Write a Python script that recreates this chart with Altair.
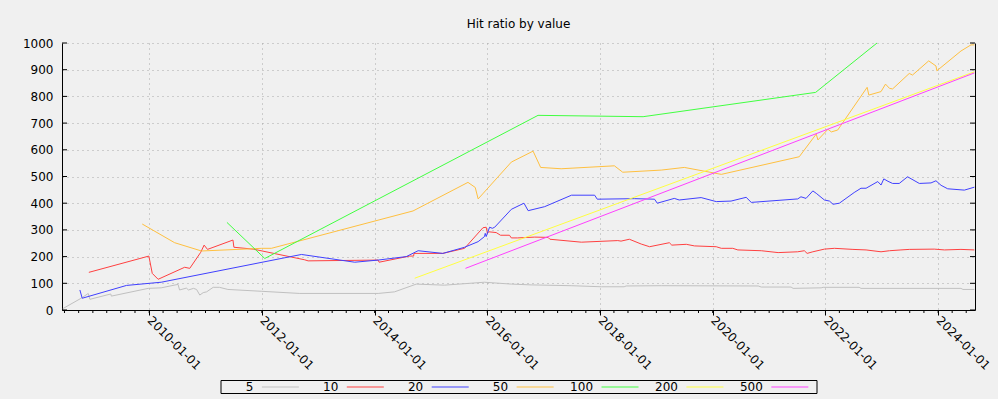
import altair as alt
import pandas as pd

SERIES = ["5", "10", "20", "50", "100", "200", "500"]
COLORS = ["#c0c0c0", "#ff4040", "#4040ff", "#ffc040", "#40ff40", "#ffff40", "#ff40ff"]

dates5 = ["2008-06-20", "2008-10-20", "2008-12-02", "2008-12-13", "2009-04-27", "2009-05-01",
          "2009-12-26", "2010-03-20", "2010-07-07", "2010-07-17", "2010-08-30", "2010-09-13",
          "2010-10-15", "2010-11-04", "2010-11-25", "2010-12-17", "2011-01-08", "2011-02-20",
          "2011-04-01", "2011-05-26", "2012-01-01", "2012-09-03", "2014-01-24", "2014-05-10",
          "2014-09-28", "2015-03-29", "2015-12-14", "2016-06-05", "2016-10-12", "2017-06-28",
          "2018-01-10", "2018-06-06", "2018-06-19", "2019-02-02", "2020-10-22", "2020-11-11",
          "2021-05-23", "2021-06-05", "2021-12-04", "2021-12-17", "2022-08-07", "2022-08-19",
          "2024-05-28", "2024-06-10", "2024-08-23"]
vals5 = [5, 45, 62, 40, 60, 52, 81, 83, 96, 75, 82, 75, 81, 77, 56, 65, 68, 85, 85, 77,
         70, 62, 62, 68, 97, 93, 104, 97, 94, 91, 87, 87, 90, 91, 90, 86, 86, 81, 83, 85,
         85, 81, 81, 77, 77]

dates10 = ["2008-12-06", "2009-12-30", "2010-01-21", "2010-02-28", "2010-08-19", "2010-09-21",
           "2010-12-01", "2010-12-23", "2011-01-14", "2011-06-28", "2011-07-04", "2011-11-06",
           "2012-10-05", "2012-10-27", "2014-01-24", "2014-01-30", "2014-08-16", "2014-09-11",
           "2014-09-13", "2015-03-19", "2015-08-07", "2015-12-04", "2015-12-25", "2016-01-02",
           "2016-01-10", "2016-02-28", "2016-03-27", "2016-05-24", "2016-06-05", "2016-07-15",
           "2016-11-04", "2017-01-29", "2017-02-10", "2017-09-02", "2018-04-26", "2018-05-17",
           "2018-07-10", "2018-09-25", "2018-11-18", "2019-03-26", "2019-04-11", "2019-07-14",
           "2019-09-05", "2020-01-24", "2020-02-26", "2020-05-10", "2020-06-12", "2020-11-11",
           "2021-02-28", "2021-07-05", "2021-08-17", "2021-09-04", "2021-10-11", "2021-12-25",
           "2022-02-28", "2022-06-28", "2022-09-21", "2022-12-27", "2023-02-20", "2023-05-05",
           "2023-06-28", "2023-12-07", "2024-02-11", "2024-05-28", "2024-08-23"]
vals10 = [141, 202, 137, 115, 160, 156, 216, 243, 227, 262, 235, 228, 188, 184, 187, 179,
          202, 202, 212, 212, 231, 308, 310, 287, 293, 290, 280, 280, 270, 270, 273, 272,
          265, 254, 260, 258, 265, 247, 237, 252, 243, 246, 240, 237, 231, 231, 225, 222,
          215, 218, 222, 212, 218, 228, 231, 227, 225, 218, 222, 225, 227, 228, 225, 227, 225]

dates20 = ["2008-10-09", "2008-10-24", "2009-08-07", "2010-03-20", "2012-09-14", "2013-08-25",
           "2014-01-24", "2014-07-25", "2014-10-10", "2015-03-19", "2015-08-07", "2015-11-03",
           "2015-12-14", "2015-12-19", "2015-12-25", "2016-01-16", "2016-02-03", "2016-02-18",
           "2016-06-05", "2016-08-26", "2016-09-22", "2017-01-07", "2017-06-30", "2017-11-27",
           "2017-12-14", "2018-08-12", "2018-12-20", "2019-01-07", "2019-04-27", "2019-05-29",
           "2019-10-18", "2020-01-24", "2020-04-29", "2020-08-05", "2020-09-07", "2021-07-05",
           "2021-07-26", "2021-08-28", "2021-10-11", "2021-11-02", "2021-12-25", "2022-01-27",
           "2022-02-19", "2022-04-01", "2022-07-06", "2022-08-19", "2022-09-21", "2022-12-06",
           "2022-12-27", "2023-01-14", "2023-02-10", "2023-03-12", "2023-04-24", "2023-06-17",
           "2023-09-01", "2023-11-16", "2023-12-18", "2024-01-20", "2024-03-03", "2024-06-19",
           "2024-08-23"]
vals20 = [75, 44, 92, 104, 208, 179, 187, 200, 222, 212, 235, 256, 275, 287, 275, 310,
          306, 310, 377, 400, 372, 387, 430, 430, 415, 417, 415, 400, 418, 412, 421, 406,
          408, 422, 403, 416, 424, 418, 446, 437, 412, 408, 396, 400, 440, 456, 456, 481,
          468, 491, 482, 474, 474, 499, 474, 476, 484, 467, 454, 449, 460]

dates50 = ["2009-11-17", "2010-06-15", "2010-12-06", "2012-01-01", "2012-03-03", "2014-09-07",
           "2015-08-29", "2015-10-15", "2015-11-03", "2016-06-05", "2016-10-24", "2016-12-12",
           "2017-04-24", "2018-04-04", "2018-05-28", "2019-02-02", "2019-07-01", "2020-02-26",
           "2021-07-15", "2021-11-02", "2021-11-13", "2022-01-17", "2022-02-08", "2022-03-21",
           "2022-09-28", "2022-10-09", "2022-12-27", "2023-01-25", "2023-02-20", "2023-03-12",
           "2023-06-28", "2023-07-19", "2023-11-01", "2023-12-18", "2023-12-24", "2024-05-28",
           "2024-08-01", "2024-08-23"]
vals50 = [322, 252, 221, 231, 231, 371, 478, 459, 416, 554, 595, 534, 529, 540, 516, 524,
          534, 508, 574, 659, 637, 677, 667, 674, 834, 805, 818, 846, 830, 828, 886, 880,
          933, 914, 896, 970, 993, 993]

dates100 = ["2011-05-20", "2012-01-20", "2016-11-25", "2018-10-07", "2021-10-29", "2022-12-01"]
vals100 = [328, 193, 729, 724, 815, 1000]

dates200 = ["2014-09-18", "2024-08-23"]
vals200 = [119, 892]

dates500 = ["2015-08-13", "2024-08-23"]
vals500 = [156, 888]

Y_TICKS = list(range(0, 1001, 100))
X_TICK_YEARS = list(range(2010, 2025, 2))
MINOR_TICKS = pd.date_range("2008-07-01", "2024-07-01", freq="QS").strftime("%Y-%m-%d").tolist()

frames = []
for name, d, v in [("5", dates5, vals5), ("10", dates10, vals10), ("20", dates20, vals20),
                   ("50", dates50, vals50), ("100", dates100, vals100),
                   ("200", dates200, vals200), ("500", dates500, vals500)]:
    frames.append(pd.DataFrame({"date": d, "value": v, "series": name}))
df = pd.concat(frames, ignore_index=True)

W, H = 913, 267
GRID = "#a8a8a8"

xscale = alt.Scale(type="utc", domain=[alt.DateTime(year=2008, month=6, date=15, utc=True),
                                       alt.DateTime(year=2024, month=8, date=27, utc=True)])
yscale = alt.Scale(domain=[0, 1000], nice=False)
cscale = alt.Scale(domain=SERIES, range=COLORS)

lines = alt.Chart(df).mark_line(strokeWidth=1).encode(
    x=alt.X("date:T", scale=xscale, axis=alt.Axis(
        values=[alt.DateTime(year=y, month=1, date=1, utc=True) for y in X_TICK_YEARS],
        labelExpr="utcFormat(datum.value, '%Y-%m-%d')", labelAngle=45, labelAlign="left",
        labelBaseline="middle", tickSize=5, labelPadding=3, grid=True, gridDash=[1, 4],
        gridColor=GRID, domainColor="black", tickColor="black", title=None,
        labelOverlap=False, labelFlush=False)),
    y=alt.Y("value:Q", scale=yscale, axis=alt.Axis(
        values=Y_TICKS, format="d", ticks=False, labelPadding=9, grid=True, gridDash=[1, 4],
        gridColor=GRID, domainColor="black", title=None, labelFlush=False)),
    color=alt.Color("series:N", scale=cscale, legend=None),
)

ydf = pd.DataFrame({"v": Y_TICKS})
lticks = alt.Chart(ydf).mark_rule(color="black", strokeWidth=1).encode(
    y=alt.Y("v:Q", scale=yscale, axis=None),
    x=alt.value(0), x2=alt.value(5))
rticks = alt.Chart(ydf).mark_rule(color="black", strokeWidth=1).encode(
    y=alt.Y("v:Q", scale=yscale, axis=alt.Axis(orient="right", labels=False, ticks=False,
                                               grid=False, domainColor="black", title=None)),
    x=alt.value(W - 5), x2=alt.value(W))
minor = alt.Chart(pd.DataFrame({"d": MINOR_TICKS})).mark_rule(color="black", strokeWidth=1).encode(
    x=alt.X("d:T", scale=xscale, axis=None),
    y=alt.value(H), y2=alt.value(H + 3))

main = alt.layer(lticks, rticks, minor, lines).resolve_axis(
    x="independent", y="independent").properties(
    width=W, height=H,
    title=alt.Title("Hit ratio by value", fontSize=12, fontWeight="normal", font="DejaVu Sans",
                    color="black", frame="group", anchor="middle", offset=6),
    view=alt.ViewBackground(stroke="transparent"),
)

leg_df = pd.DataFrame({"series": SERIES, "i": list(range(len(SERIES)))})
legx = alt.Scale(domain=[-0.4876, 6.532], nice=False, zero=False)
leg_line = alt.Chart(leg_df).transform_calculate(i2="datum.i + 0.4358").mark_rule(strokeWidth=1).encode(
    x=alt.X("i:Q", scale=legx, axis=None), x2="i2:Q", y=alt.value(7),
    color=alt.Color("series:N", scale=cscale, legend=None))
leg_text = alt.Chart(leg_df).mark_text(align="right", baseline="middle", dx=-8.5, fontSize=12,
                                       color="black", font="DejaVu Sans").encode(
    x=alt.X("i:Q", scale=legx, axis=None), y=alt.value(7), text="series:N")
legend = alt.layer(leg_line, leg_text).properties(
    width=596, height=13, view=alt.ViewBackground(stroke="black", strokeWidth=1))

chart = alt.vconcat(main, legend, spacing=70, center=True, bounds="flush").properties(
    padding={"left": 21, "top": 17, "right": 5, "bottom": 5}
).configure(background="#f0f0f0", font="DejaVu Sans").configure_axis(
    labelFont="DejaVu Sans", labelFontSize=12, labelColor="black", domainWidth=1
)

chart.save("out.html", embed_options={"renderer": "svg", "actions": False})
